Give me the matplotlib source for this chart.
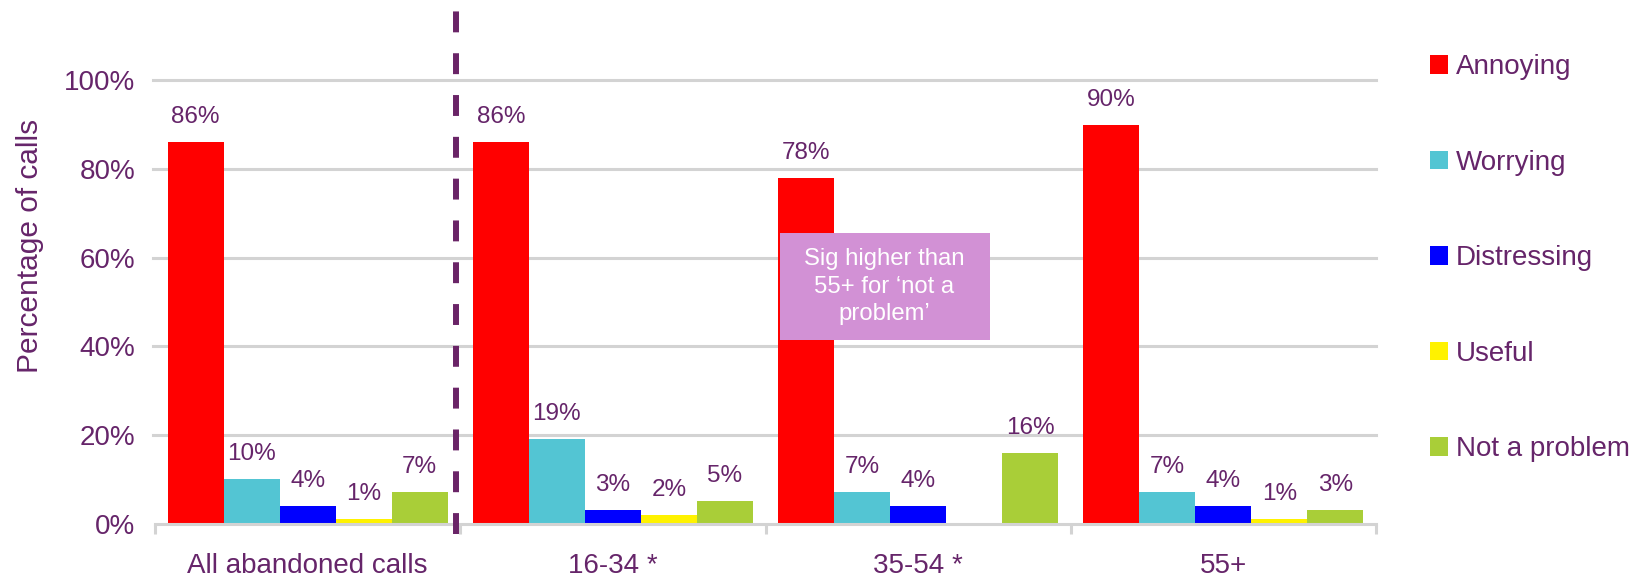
import matplotlib
matplotlib.use("Agg")
import matplotlib.pyplot as plt
from matplotlib.patches import Patch, Rectangle
import numpy as np

plt.rcParams['font.family'] = ['Liberation Sans', 'DejaVu Sans']

groups = ["All abandoned calls", "16-34 *", "35-54 *", "55+"]
series_names = ["Annoying", "Worrying", "Distressing", "Useful", "Not a problem"]
annoying = [86, 86, 78, 90]
worrying = [10, 19, 7, 7]
distressing = [4, 3, 4, 4]
useful = [1, 2, 0, 1]
not_a_problem = [7, 5, 16, 3]
series_values = [annoying, worrying, distressing, useful, not_a_problem]
y_ticks = [0, 20, 40, 60, 80, 100]
note_text = "Sig higher than\n55+ for \u2018not a\nproblem\u2019"

colors = ["#FF0000", "#53C5D3", "#0000FF", "#FFF200", "#A9CE38"]
text_color = "#66256A"
grid_color = "#D3D3D3"

fig = plt.figure(figsize=(16.43, 5.76), dpi=100)
ax = fig.add_axes([155 / 1643, 1 - 523.5 / 576, 1221 / 1643, 443.2 / 576])

x = np.arange(len(groups))
w = 0.1836
for i, (name, vals, col) in enumerate(zip(series_names, series_values, colors)):
    pos = x + (i - 2) * w
    ax.bar(pos, np.array(vals) / 100, width=w, color=col, label=name, zorder=3,
           linewidth=0)
    for px, v in zip(pos, vals):
        if v > 0:
            ax.annotate(f"{v}%", (px, v / 100), xytext=(0, 18),
                        textcoords="offset points", ha="center", va="center",
                        fontsize=17.5, color=text_color, zorder=5)

ax.set_xlim(-0.5, len(groups) - 0.5)
ax.set_ylim(0, 1.0)

# horizontal gridlines
for t in y_ticks[1:]:
    ax.axhline(t / 100, xmin=-0.002, xmax=1.0, color=grid_color, lw=2.2,
               zorder=1, clip_on=False)

ax.set_yticks([t / 100 for t in y_ticks])
ax.set_yticklabels([f"{t}%" for t in y_ticks])
ax.tick_params(axis="y", length=0, pad=14, labelsize=20, labelcolor=text_color)

ax.set_xticks(x)
ax.set_xticklabels(groups)
ax.tick_params(axis="x", which="major", length=0, pad=21, labelsize=20,
               labelcolor=text_color)
ax.set_xticks(np.arange(-0.5, len(groups)), minor=True)
ax.tick_params(axis="x", which="minor", length=7, width=2.2, color=grid_color,
               direction="out")

for side in ["left", "right", "top"]:
    ax.spines[side].set_visible(False)
ax.spines["bottom"].set_color(grid_color)
ax.spines["bottom"].set_linewidth(2.2)
ax.spines["bottom"].set_zorder(4)

ax.set_ylabel("Percentage of calls", fontsize=21.5, color=text_color)
ax.yaxis.set_label_coords(-0.091, 0.626)

# divider between the overall figure and the age breakdown
ax.plot([0.487, 0.487], [-0.024, 1.159], color="#6A2467", lw=4.3,
        linestyle=(0, (3.5, 3.5)), clip_on=False, zorder=6)

# significance note
ax.add_patch(Rectangle((1.546, 0.413), 0.688, 0.243, facecolor="#D291D5",
                       edgecolor="none", zorder=7))
ax.text(1.89, 0.5345, note_text, ha="center", va="center", fontsize=17.2,
        color="white", linespacing=1.32, zorder=8)

handles = [Patch(facecolor=c, edgecolor="none") for c in colors]
leg = fig.legend(handles, series_names, loc="upper left",
                 bbox_to_anchor=(1430 / 1643, 1 - 54.5 / 576), frameon=False,
                 fontsize=20, handlelength=0.65, handleheight=0.65,
                 handletextpad=0.29, labelspacing=2.5, borderpad=0,
                 borderaxespad=0)
for t in leg.get_texts():
    t.set_color(text_color)

fig.savefig("out.png", dpi=100)
